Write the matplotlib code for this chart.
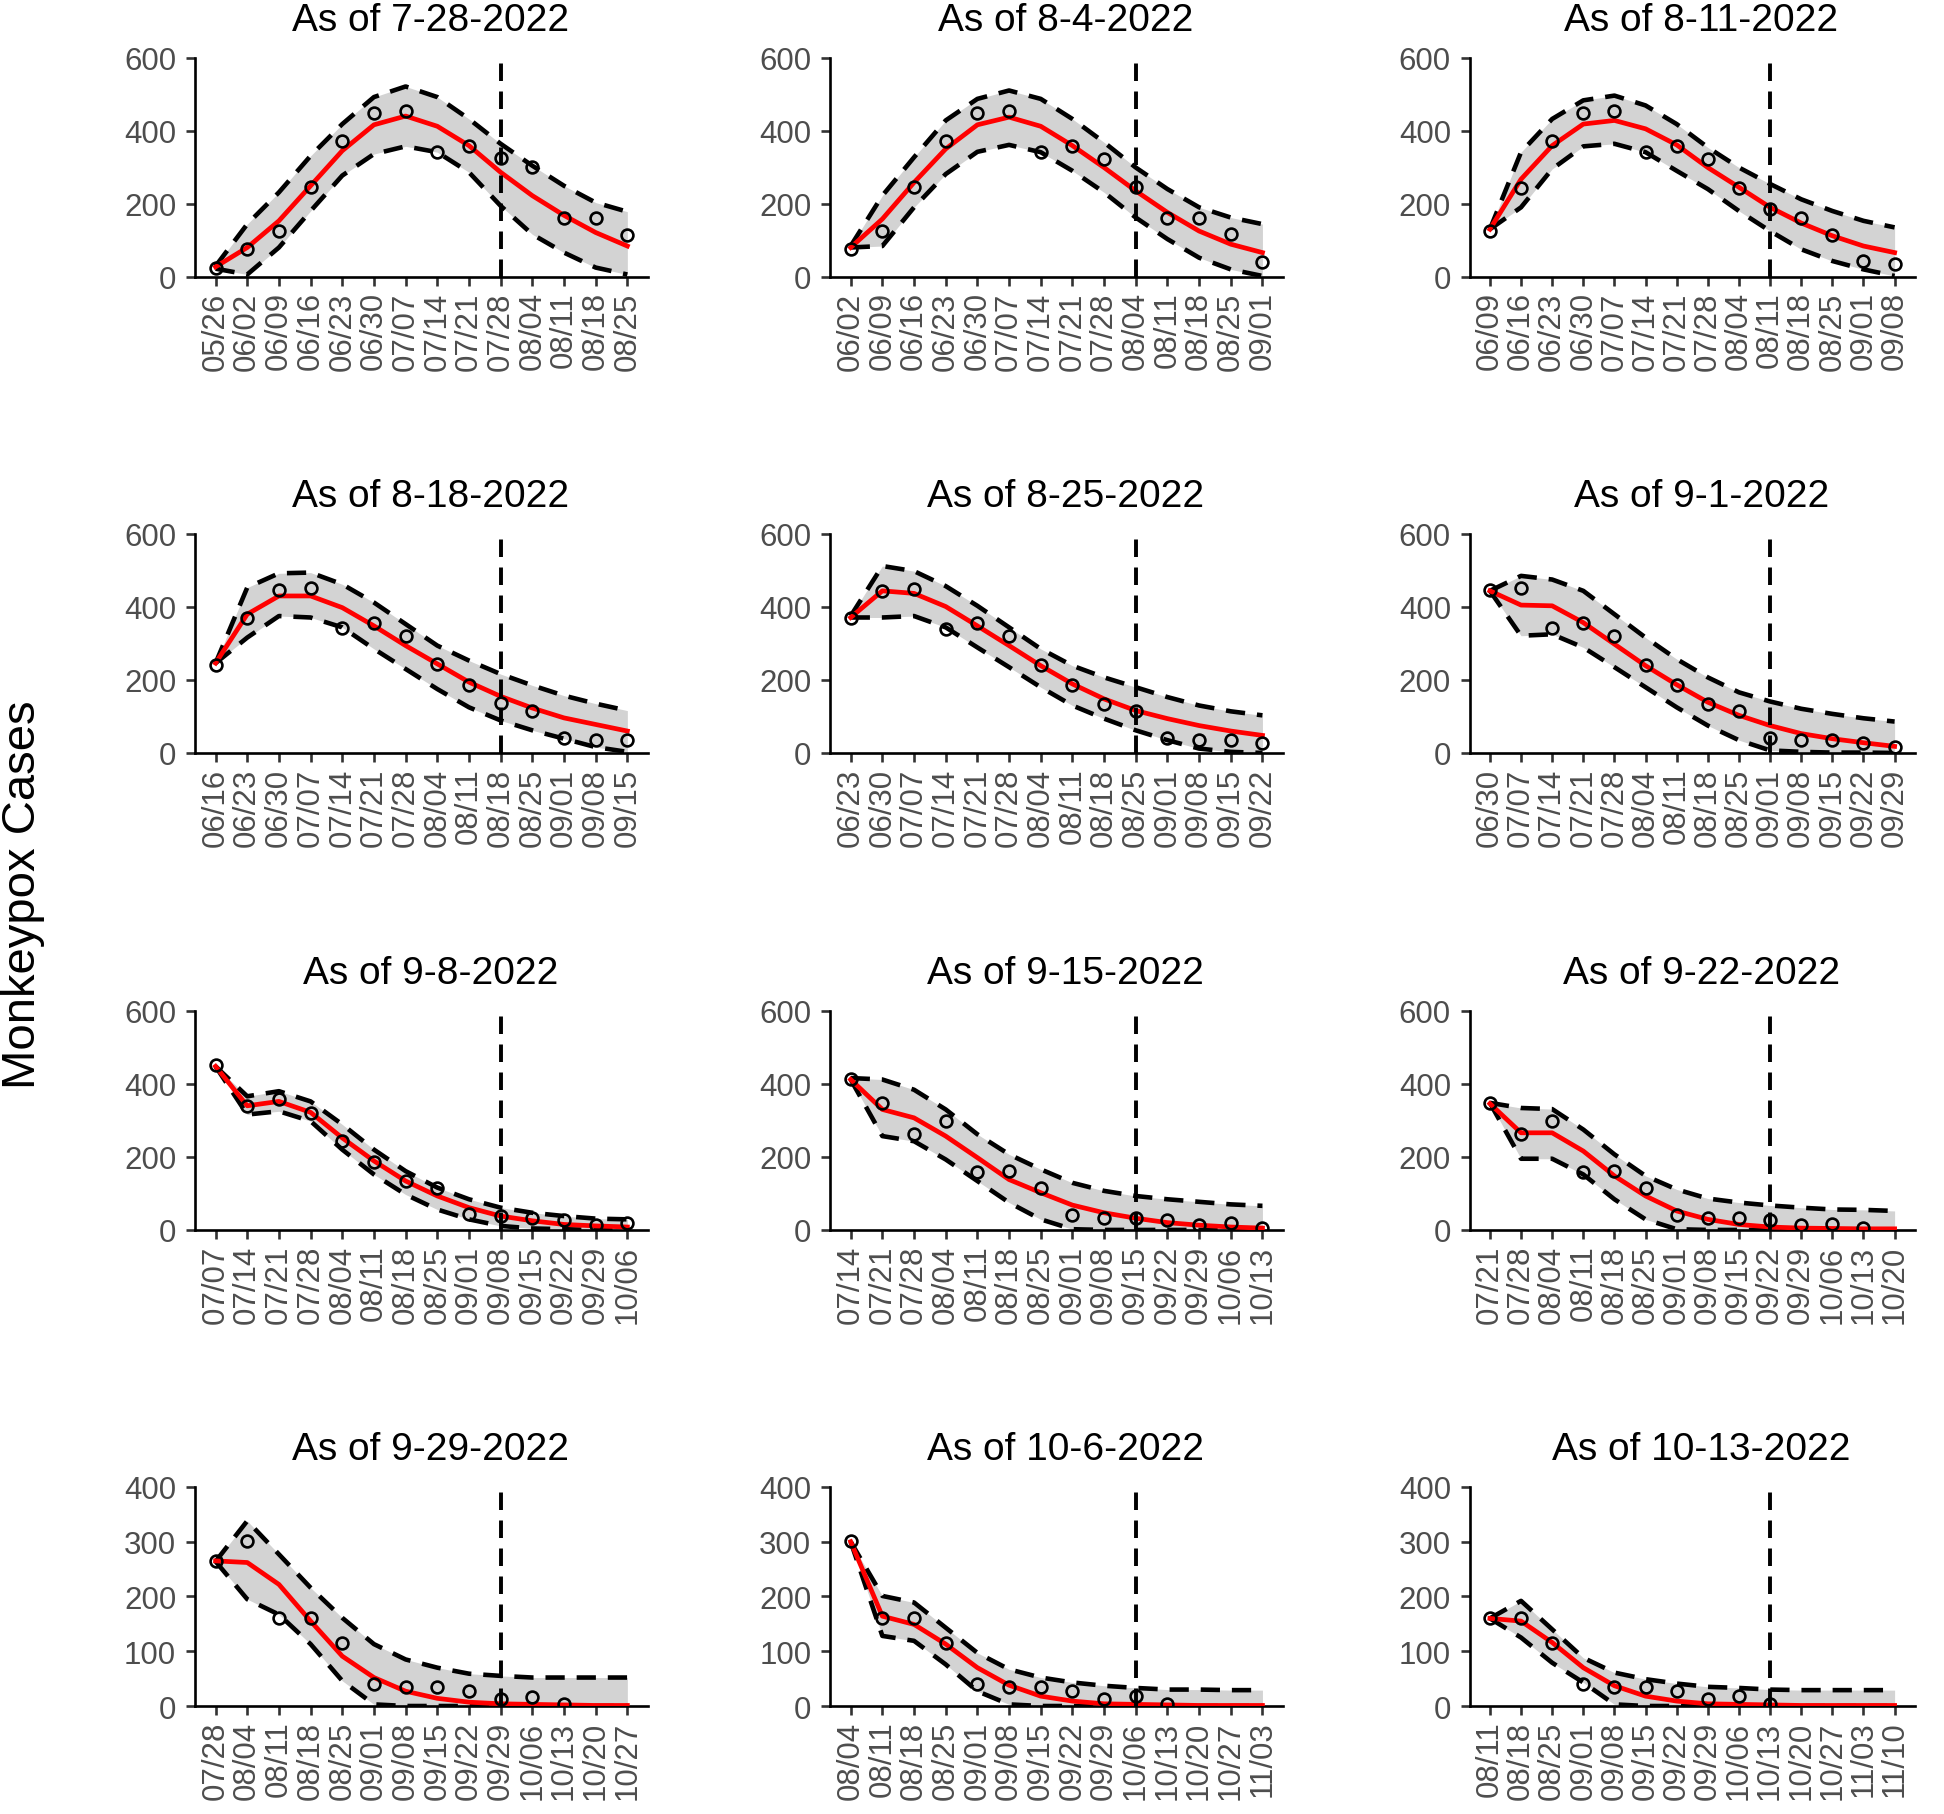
import numpy as np
import matplotlib
matplotlib.use("Agg")
import matplotlib.pyplot as plt

nan = np.nan

# weekly dates used on the x axes (each panel shows 14 weeks)
week_labels = ["05/26", "06/02", "06/09", "06/16", "06/23", "06/30", "07/07",
               "07/14", "07/21", "07/28", "08/04", "08/11", "08/18", "08/25",
               "09/01", "09/08", "09/15", "09/22", "09/29", "10/06", "10/13",
               "10/20", "10/27", "11/03", "11/10"]

titles = ["As of 7-28-2022", "As of 8-4-2022", "As of 8-11-2022",
          "As of 8-18-2022", "As of 8-25-2022", "As of 9-1-2022",
          "As of 9-8-2022", "As of 9-15-2022", "As of 9-22-2022",
          "As of 9-29-2022", "As of 10-6-2022", "As of 10-13-2022"]

# index of the "as of" week inside each 14-week window
cutoff_idx = 9

y_max = [600, 600, 600, 600, 600, 600, 600, 600, 600, 400, 400, 400]

# observed weekly cases (circles)
observed = [
    [24, 77, 125, 245, 372, 447, 453, 341, 359, 324, 300, 161, 161, 115],
    [75, 125, 245, 371, 447, 453, 341, 359, 322, 245, 160, 162, 116, 41],
    [124, 244, 371, 447, 453, 341, 359, 322, 243, 185, 160, 114, 43, 34],
    [242, 370, 445, 451, 341, 357, 321, 243, 186, 136, 115, 42, 36, 36],
    [369, 444, 450, 339, 357, 321, 242, 186, 135, 115, 42, 35, 35, 27],
    [445, 451, 341, 357, 321, 242, 186, 135, 115, 42, 35, 35, 27, 15],
    [452, 340, 358, 320, 243, 187, 134, 116, 43, 38, 34, 27, 14, 18],
    [414, 348, 264, 298, 160, 161, 115, 41, 34, 32, 27, 14, 18, 4],
    [348, 264, 298, 160, 161, 115, 41, 34, 34, 27, 13, 17, 4, nan],
    [264, 301, 160, 161, 115, 41, 35, 35, 27, 13, 17, 3, nan, nan],
    [301, 160, 161, 115, 41, 35, 35, 27, 13, 18, 3, nan, nan, nan],
    [160, 161, 115, 41, 35, 35, 27, 13, 18, 3, nan, nan, nan, nan],
]

# model median fit / forecast (red line)
median = [
    [27, 80, 153, 249, 345, 416, 440, 412, 359, 286, 222, 168, 121, 84],
    [80, 158, 258, 350, 416, 437, 412, 359, 299, 235, 176, 125, 89, 66],
    [130, 267, 359, 418, 428, 405, 361, 299, 245, 190, 147, 112, 84, 66],
    [246, 380, 430, 430, 398, 348, 294, 244, 194, 155, 123, 96, 78, 60],
    [371, 444, 437, 401, 348, 294, 239, 189, 148, 116, 94, 75, 60, 48],
    [444, 405, 403, 357, 298, 239, 187, 139, 103, 75, 53, 39, 28, 18],
    [448, 340, 352, 322, 252, 189, 134, 93, 61, 38, 25, 15, 11, 8],
    [412, 330, 307, 257, 198, 138, 102, 68, 47, 32, 20, 13, 8, 5],
    [346, 266, 266, 216, 148, 93, 52, 29, 15, 8, 5, 4, 3, 3],
    [265, 262, 222, 155, 91, 52, 27, 14, 7, 4, 3, 2, 1, 1],
    [300, 164, 149, 113, 70, 38, 18, 9, 4, 3, 2, 1, 1, 1],
    [160, 155, 116, 70, 37, 18, 9, 4, 3, 2, 1, 1, 1, 1],
]

# upper prediction bound (dashed)
upper = [
    [29, 144, 231, 331, 418, 492, 521, 492, 432, 364, 304, 249, 203, 178],
    [84, 222, 327, 428, 487, 510, 487, 432, 368, 299, 240, 190, 162, 144],
    [130, 341, 432, 483, 496, 469, 418, 354, 299, 254, 212, 180, 153, 135],
    [246, 453, 492, 494, 462, 412, 353, 294, 253, 216, 185, 157, 135, 116],
    [375, 512, 498, 457, 403, 344, 285, 239, 207, 180, 153, 130, 114, 103],
    [444, 485, 475, 444, 380, 316, 257, 207, 166, 141, 121, 107, 95, 86],
    [448, 366, 380, 352, 289, 220, 161, 116, 84, 61, 47, 38, 31, 29],
    [416, 412, 384, 330, 262, 207, 166, 129, 107, 93, 84, 77, 70, 66],
    [348, 334, 331, 275, 207, 148, 111, 86, 75, 67, 61, 56, 55, 52],
    [264, 338, 277, 216, 161, 113, 85, 70, 59, 55, 52, 52, 52, 52],
    [300, 201, 189, 143, 97, 67, 52, 43, 37, 33, 30, 30, 29, 29],
    [160, 192, 140, 88, 61, 49, 41, 35, 33, 30, 29, 29, 29, 29],
]

# lower prediction bound (dashed)
lower = [
    [22, 6, 80, 180, 277, 336, 357, 341, 286, 194, 116, 66, 25, 6],
    [80, 84, 190, 281, 342, 361, 341, 290, 231, 162, 103, 52, 20, 2],
    [130, 190, 295, 357, 364, 341, 290, 240, 180, 125, 75, 43, 20, 2],
    [246, 316, 375, 371, 344, 285, 230, 175, 125, 89, 62, 39, 16, 3],
    [371, 371, 375, 344, 289, 235, 180, 130, 94, 62, 35, 12, 3, 0],
    [444, 321, 325, 289, 235, 180, 125, 75, 35, 7, 3, 1, 1, 0],
    [448, 316, 325, 298, 220, 152, 97, 56, 29, 11, 4, 2, 0, 0],
    [412, 257, 243, 193, 134, 75, 29, 2, 0, 0, 0, 0, 0, 0],
    [348, 195, 195, 152, 84, 29, 2, 0, 0, 0, 0, 0, 0, 0],
    [264, 195, 167, 113, 46, 3, 0, 0, 0, 0, 0, 0, 0, 0],
    [300, 128, 119, 76, 27, 3, 0, 0, 0, 0, 0, 0, 0, 0],
    [160, 125, 79, 43, 3, 0, 0, 0, 0, 0, 0, 0, 0, 0],
]

plt.rcParams['font.family'] = ['Liberation Sans', 'DejaVu Sans']

fig = plt.figure(figsize=(19.44, 18.15), dpi=100)

# panel placement (figure fractions)
col_left = [0.1003, 0.4270, 0.7560]
col_width = [0.2330, 0.2330, 0.2290]
row_bottom = [0.8470, 0.5846, 0.3218, 0.0595]
row_height = 0.1207

tick_grey = "#4D4D4D"

for k in range(12):
    r, c = divmod(k, 3)
    ax = fig.add_axes([col_left[c], row_bottom[r], col_width[c], row_height])
    x = np.arange(14)
    labels = week_labels[k:k + 14]

    ax.fill_between(x, lower[k], upper[k], color="#D3D3D3", lw=0, zorder=1)
    ax.plot(x, upper[k], color="black", lw=3.3, dashes=(4.2, 2.6), zorder=2)
    ax.plot(x, lower[k], color="black", lw=3.3, dashes=(4.2, 2.6), zorder=2)
    ax.plot(x, median[k], color="red", lw=3.4, zorder=3)
    ax.axvline(cutoff_idx, color="black", lw=2.8, dashes=(4.5, 2.7), zorder=4)
    ax.plot(x, observed[k], linestyle="none", marker="o", markersize=8.5,
            markerfacecolor="none", markeredgecolor="black",
            markeredgewidth=1.9, zorder=5)

    ax.set_xlim(-0.65, 13.65)
    ax.set_ylim(0, y_max[k])
    ax.set_yticks(np.arange(0, y_max[k] + 1, 200 if y_max[k] == 600 else 100))
    ax.set_xticks(x)
    ax.set_xticklabels(labels, rotation=90)

    for side in ["top", "right"]:
        ax.spines[side].set_visible(False)
    for side in ["left", "bottom"]:
        ax.spines[side].set_linewidth(1.9)
        ax.spines[side].set_color("black")

    ax.tick_params(axis="both", length=6.5, width=1.9, color="#333333",
                   labelcolor=tick_grey, labelsize=22.5)
    ax.tick_params(axis="y", pad=7)
    ax.tick_params(axis="x", pad=4)

    ax.set_title(titles[k], fontsize=28, pad=20, x=0.52)

fig.text(0.012, 0.507, "Monkeypox Cases", rotation=90, fontsize=34,
         ha="center", va="center")

fig.savefig("out.png", dpi=100)
